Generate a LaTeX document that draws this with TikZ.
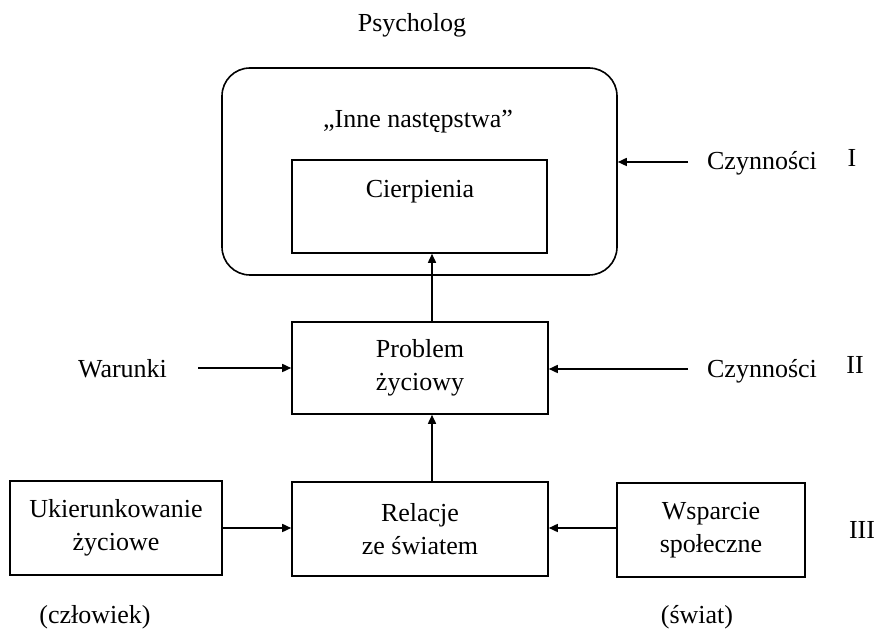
\documentclass[tikz,border=0pt]{standalone}
\usepackage{fontspec}
\setmainfont{Liberation Serif}
\usetikzlibrary{arrows.meta,positioning}
\begin{document}
\begin{tikzpicture}[x=0.5pt,y=-0.5pt,
  every node/.style={font=\fontsize{13}{16.5}\selectfont, inner sep=0pt},
  box/.style={draw, line width=0.8pt, rectangle, align=center},
  conn/.style={line width=0.8pt, -{Triangle[length=4.5pt,width=4pt]}},
  lbl/.style={anchor=center}]
\useasboundingbox (0,0) rectangle (874,635);
% boxes
\node[box, rounded corners=14pt, minimum width=197.5pt, minimum height=103.5pt] (outer) at (419.5,171.5) {};
\node[box, minimum width=127.5pt, minimum height=46.5pt] (cier) at (419.5,206.5) {};
\node[box, minimum width=128pt, minimum height=46pt] (prob) at (420,368) {Problem\\życiowy};
\node[box, minimum width=128pt, minimum height=47pt] (rel) at (420,529) {Relacje\\ze światem};
\node[box, minimum width=106pt, minimum height=47pt] (uki) at (116,528) {Ukierunkowanie\\życiowe};
\node[box, minimum width=94pt, minimum height=47pt] (wsp) at (711,530) {Wsparcie\\społeczne};
% texts
\node[lbl] (psy) at (412,25) {Psycholog};
\node[lbl] (inne) at (418,122) {„Inne następstwa”};
\node[lbl] (cierT) at (420,192) {Cierpienia};
\node[lbl] (war) at (122.5,369) {Warunki};
\node[lbl] (cz1) at (762,163) {Czynności};
\node[lbl] (cz2) at (762,371) {Czynności};
\node[lbl] (r1) at (852,158) {I};
\node[lbl] (r2) at (855,365) {II};
\node[lbl] (r3) at (862,530) {III};
\node[lbl] (czl) at (95,617) {(człowiek)};
\node[lbl] (swi) at (697,617) {(świat)};
% free ends
\coordinate (warS) at (198,368);
\coordinate (cz1S) at (688,162);
\coordinate (cz2S) at (688,369);
% connectors
\draw[conn] (prob.north -| 432,0) -- (cier.south -| 432,0);
\draw[conn] (rel.north -| 432,0) -- (prob.south -| 432,0);
\draw[conn] (uki.east) -- (uki.east -| rel.west);
\draw[conn] (wsp.west |- 0,528) -- (rel.east |- 0,528);
\draw[conn] (warS) -- (warS -| prob.west);
\draw[conn] (cz2S) -- (cz2S -| prob.east);
\draw[conn] (cz1S) -- (cz1S -| outer.east);
\end{tikzpicture}
\end{document}
